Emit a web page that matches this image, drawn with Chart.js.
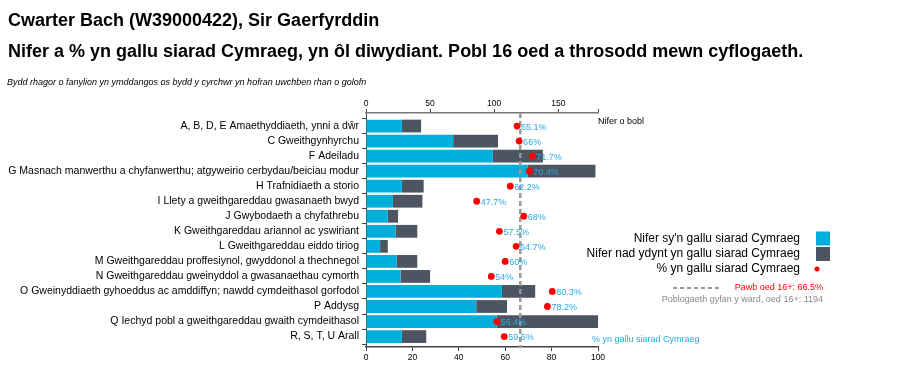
<!DOCTYPE html>
<html><head><meta charset="utf-8">
<script src="https://cdn.jsdelivr.net/npm/chart.js@4/dist/chart.umd.min.js"></script>
<style>html,body{margin:0;padding:0;background:#fff;}#wrap{width:922px;height:376px;position:relative;}</style>
</head><body><div id="wrap"><canvas id="c" width="922" height="376"></canvas></div>
<script>
const chartTitle = "Cwarter Bach (W39000422), Sir Gaerfyrddin";
const chartSubtitle = "Nifer a % yn gallu siarad Cymraeg, yn \u00f4l diwydiant. Pobl 16 oed a throsodd mewn cyflogaeth.";
const chartNote = "Bydd rhagor o fanylion yn ymddangos os bydd y cyrchwr yn hofran uwchben rhan o golofn";
const categories = [
  "A, B, D, E Amaethyddiaeth, ynni a d\u0175r",
  "C Gweithgynhyrchu",
  "F Adeiladu",
  "G Masnach manwerthu a chyfanwerthu; atgyweirio cerbydau/beiciau modur",
  "H Trafnidiaeth a storio",
  "I Llety a gweithgareddau gwasanaeth bwyd",
  "J Gwybodaeth a chyfathrebu",
  "K Gweithgareddau ariannol ac yswiriant",
  "L Gweithgareddau eiddo tiriog",
  "M Gweithgareddau proffesiynol, gwyddonol a thechnegol",
  "N Gweithgareddau gweinyddol a gwasanaethau cymorth",
  "O Gweinyddiaeth gyhoeddus ac amddiffyn; nawdd cymdeithasol gorfodol",
  "P Addysg",
  "Q Iechyd pobl a gweithgareddau gwaith cymdeithasol",
  "R, S, T, U Arall"
];
const welshSpeakers    = [28, 68, 99, 126, 28, 21, 17, 23, 11, 24, 27, 106, 86, 102, 28];
const nonWelshSpeakers = [15, 35, 39, 53, 17, 23, 8, 17, 6, 16, 23, 26, 24, 79, 19];
const percentWelsh     = [65.1, 66, 71.7, 70.4, 62.2, 47.7, 68, 57.5, 64.7, 60, 54, 80.3, 78.2, 56.4, 59.6];
const overallPercent = 66.5;
const totalPopulation = 1194;
const countTicks = [0, 50, 100, 150];
const percentTicks = [0, 20, 40, 60, 80, 100];
const seriesLabels = ["Nifer sy'n gallu siarad Cymraeg", "Nifer nad ydynt yn gallu siarad Cymraeg", "% yn gallu siarad Cymraeg"];
const countAxisTitle = "Nifer o bobl";
const percentAxisTitle = "% yn gallu siarad Cymraeg";
const overallLabel = "Pawb oed 16+: " + overallPercent + "%";
const populationLabel = "Poblogaeth gyfan y ward, oed 16+: " + totalPopulation;

const BLUE = '#00AEDB', DARK = '#4E5562', RED = '#FF0000', CYAN = '#29A9E1';
const FONT = '"Liberation Sans", Arial, sans-serif';
const countMax = Math.max(...welshSpeakers.map((v, i) => v + nonWelshSpeakers[i]));

const decorPlugin = {
  id: 'decor',
  beforeDatasetDraw(chart, args) {
    if (args.index !== 2) return;
    const {ctx, chartArea, scales} = chart;
    const x = scales.xPct.getPixelForValue(overallPercent);
    ctx.save();
    ctx.strokeStyle = '#999';
    ctx.lineWidth = 2.5;
    ctx.setLineDash([5, 3]);
    ctx.beginPath(); ctx.moveTo(x, chartArea.top); ctx.lineTo(x, chartArea.bottom); ctx.stroke();
    ctx.restore();
  },
  afterDatasetsDraw(chart) {
    const {ctx} = chart;
    const meta = chart.getDatasetMeta(2);
    ctx.save();
    ctx.font = '9px ' + FONT;
    ctx.fillStyle = CYAN;
    ctx.textBaseline = 'middle';
    ctx.textAlign = 'left';
    meta.data.forEach((pt, i) => {
      ctx.fillText(percentWelsh[i] + '%', pt.x + 4, pt.y + 1);
    });
    ctx.restore();
  },
  afterDraw(chart) {
    const {ctx, chartArea} = chart;
    ctx.save();
    ctx.fillStyle = '#000';
    ctx.textBaseline = 'alphabetic';
    ctx.textAlign = 'left';
    ctx.font = 'bold 18px ' + FONT;
    ctx.fillText(chartTitle, 8, 26);
    ctx.fillText(chartSubtitle, 8, 57);
    ctx.font = 'italic 9px ' + FONT;
    ctx.fillText(chartNote, 7, 85);
    // axis titles
    ctx.font = '9px ' + FONT;
    ctx.textBaseline = 'middle';
    ctx.fillText(countAxisTitle, chartArea.right, chartArea.top + 9);
    ctx.fillStyle = CYAN;
    ctx.fillText(percentAxisTitle, chartArea.right - 6, chartArea.bottom - 7);
    // legend
    const ds = chart.data.datasets;
    const rx = 800, sx = 816;
    ctx.font = '12px ' + FONT;
    ctx.textAlign = 'right';
    ctx.fillStyle = '#000';
    const ys = [239, 254, 269];
    ds.forEach((d, i) => ctx.fillText(d.label, rx, ys[i]));
    ctx.fillStyle = ds[0].backgroundColor; ctx.fillRect(sx, ys[0] - 7.5, 14, 14);
    ctx.fillStyle = ds[1].backgroundColor; ctx.fillRect(sx, ys[1] - 7, 14, 14);
    ctx.fillStyle = RED; ctx.beginPath(); ctx.arc(sx + 1, ys[2], 2.5, 0, Math.PI * 2); ctx.fill();
    // overall line legend
    ctx.strokeStyle = '#999'; ctx.lineWidth = 2; ctx.setLineDash([4, 3]);
    ctx.beginPath(); ctx.moveTo(673, 288); ctx.lineTo(722, 288); ctx.stroke();
    ctx.setLineDash([]);
    ctx.font = '9px ' + FONT;
    ctx.fillStyle = RED;
    ctx.fillText(overallLabel, 823, 288);
    ctx.fillStyle = '#888';
    ctx.fillText(populationLabel, 823, 300);
    ctx.restore();
  }
};

new Chart(document.getElementById('c'), {
  type: 'bar',
  data: {
    labels: categories,
    datasets: [
      { label: seriesLabels[0], data: welshSpeakers, backgroundColor: BLUE, xAxisID: 'xCount', yAxisID: 'y', stack: 's', order: 1,
        categoryPercentage: 0.85, barPercentage: 1 },
      { label: seriesLabels[1], data: nonWelshSpeakers, backgroundColor: DARK, xAxisID: 'xCount', yAxisID: 'y', stack: 's', order: 1,
        categoryPercentage: 0.85, barPercentage: 1 },
      { type: 'line', label: seriesLabels[2], data: percentWelsh, indexAxis: 'y', xAxisID: 'xPct', yAxisID: 'y', showLine: false,
        pointRadius: 3.4, pointBackgroundColor: RED, pointBorderColor: RED, pointBorderWidth: 0, backgroundColor: RED, borderColor: RED, order: 0 }
    ]
  },
  options: {
    indexAxis: 'y',
    responsive: false,
    animation: false,
    devicePixelRatio: 1,
    layout: { padding: { left: 0, right: 922 - 598, top: 0, bottom: 0 } },
    plugins: { legend: { display: false }, tooltip: { enabled: false }, title: { display: false } },
    scales: {
      y: {
        type: 'category', stacked: true, position: 'left',
        afterFit: s => { s.width = 366; },
        afterBuildTicks: s => { s._startValue = -0.867; s._valueRange = 15.56; },
        grid: { drawOnChartArea: false, tickLength: 4, color: '#444' },
        border: { display: true, color: '#444', width: 1 },
        ticks: { font: { family: FONT, size: 10.5 }, color: '#000', padding: 3, autoSkip: false }
      },
      xCount: {
        type: 'linear', position: 'top', stacked: true, min: 0, max: countMax,
        afterFit: s => { s.height = 113; },
        afterBuildTicks: s => { s.ticks = countTicks.map(v => ({value: v})).concat([{value: countMax}]); },
        grid: { drawOnChartArea: false, tickLength: 4, color: '#444' },
        border: { display: true, color: '#777', width: 1.5 },
        ticks: { font: { family: FONT, size: 8.5 }, color: '#000', padding: 0, maxRotation: 0,
          callback: v => countTicks.includes(v) ? String(v) : '' }
      },
      xPct: {
        type: 'linear', position: 'bottom', min: 0, max: 100,
        afterFit: s => { s.height = 376 - 347; },
        afterBuildTicks: s => { s.ticks = percentTicks.map(v => ({value: v})); },
        grid: { drawOnChartArea: false, tickLength: 4, color: '#444' },
        border: { display: true, color: '#444', width: 1.5 },
        ticks: { font: { family: FONT, size: 8.5 }, color: '#000', padding: 2, maxRotation: 0 }
      }
    }
  },
  plugins: [decorPlugin]
});
</script></body></html>
